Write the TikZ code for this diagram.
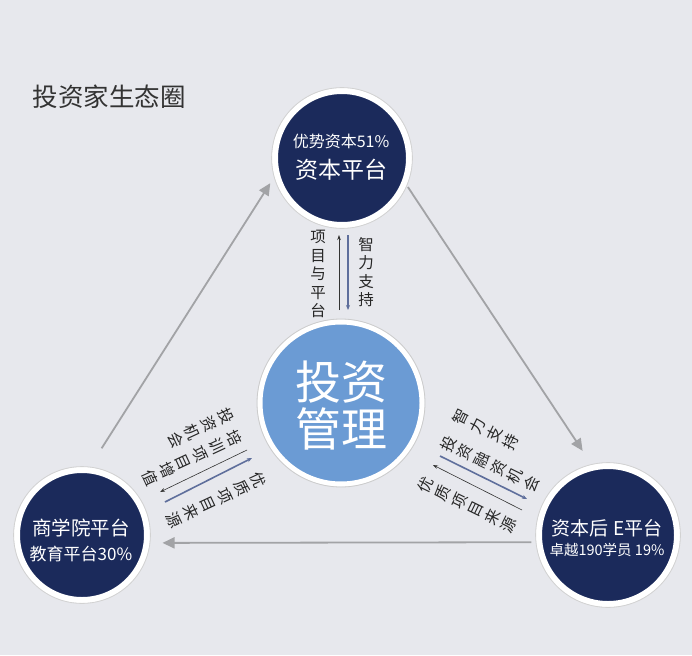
\documentclass[tikz,border=0pt]{standalone}
\usepackage{fontspec}
\setmainfont{Noto Sans CJK SC}
\usetikzlibrary{arrows.meta}

\begin{document}
\begin{tikzpicture}[x=1pt, y=-1pt,
    platform/.style={circle, fill=navyColour, draw=white, line width=6pt, inner sep=0pt, outer sep=0pt},
    platformText/.style={text=white, align=center, inner sep=0pt},
    flowArrow/.style={draw=arrowColour, line width=1.8pt, -{Triangle[length=12pt,width=11pt]}},
    thinArrow/.style={draw=black!80, line width=0.6pt, -{Stealth[length=5pt,width=3.5pt]}},
    blueArrow/.style={draw=slateColour, line width=1.6pt, -{Stealth[length=5pt,width=4pt]}},
    vcol/.style={align=center, text=black!85, inner sep=0pt, font=\fontsize{15.5}{18.5}\selectfont}]

    \definecolor{bgColour}{HTML}{E7E8ED}
    \definecolor{navyColour}{HTML}{1B2A5B}
    \definecolor{hubColour}{HTML}{6B9BD4}
    \definecolor{arrowColour}{HTML}{A2A3A6}
    \definecolor{slateColour}{HTML}{5F6F9C}
    \definecolor{titleColour}{HTML}{333333}

    % Background
    \fill[bgColour] (0,0) rectangle (692,655);
    \useasboundingbox (0,0) rectangle (692,655);

    % Title
    \node[anchor=west, text=titleColour, font=\fontsize{25.5}{28}\selectfont] (title) at (29,97) {投资家生态圈};

    % Platforms
    \node[platform, minimum size=134pt] (tc) at (342,158) {};
    \node[platform, minimum size=130pt] (lc) at (82,535) {};
    \node[platform, minimum size=138pt] (rc) at (608,535) {};
    \draw[gray!35, line width=0.8pt] (tc) circle (70.4);
    \draw[gray!35, line width=0.8pt] (lc) circle (68.4);
    \draw[gray!35, line width=0.8pt] (rc) circle (72.4);

    \node[platformText] (tcText) at (341,157)
        {\fontsize{16}{20}\selectfont 优势资本51\%\\[9pt]\fontsize{23}{23}\selectfont 资本平台};
    \node[platformText] (lcText) at (81,540)
        {\fontsize{19.5}{24}\selectfont 商学院平台\\[8pt]\fontsize{17}{20}\selectfont 教育平台30\%};
    \node[platformText] (rcText) at (607,538)
        {\fontsize{19}{23}\selectfont 资本后 E平台\\[5pt]\fontsize{14.5}{18}\selectfont 卓越190学员 19\%};

    % Investment management hub
    \node[circle, fill=hubColour, draw=white, line width=5pt, minimum size=162pt, inner sep=0pt, outer sep=0pt] (hub) at (341,403) {};
    \draw[gray!40, line width=0.8pt] (hub) circle (84);
    \node[platformText, font=\fontsize{46}{47}\selectfont] (hubText) at (341,406) {投资\\管理};

    % Flow between platforms
    \draw[flowArrow, shorten <=26pt, shorten >=12pt] (lc.85) -- (tc.193);
    \draw[flowArrow, shorten <=6pt, shorten >=20pt] (tc.-21) -- (rc.102);
    \draw[flowArrow, shorten <=8pt, shorten >=16pt] (rc.186) -- (lc.-7);

    % Top pair
    \coordinate (topA) at (339,310);
    \coordinate (topB) at (339,235);
    \coordinate (topC) at (348,235);
    \coordinate (topD) at (348,310);
    \draw[thinArrow] (topA) -- (topB);
    \draw[blueArrow] (topC) -- (topD);
    \node[vcol] (topL) at (318,274) {项\\目\\与\\平\\台};
    \node[vcol] (topR) at (366,272) {智\\力\\支\\持};

    % Left pair
    \coordinate (leftA) at (247,450);
    \coordinate (leftB) at (160,492);
    \coordinate (leftC) at (165,502);
    \coordinate (leftD) at (252,458);
    \draw[thinArrow] (leftA) -- (leftB);
    \draw[blueArrow] (leftC) -- (leftD);
    \node[vcol, rotate=-65] (leftU) at (192,458) {培\\训\\项\\目\\增\\值};
    \node[vcol, rotate=-65] (leftV) at (201,428) {投\\资\\机\\会};
    \node[vcol, rotate=-65] (leftW) at (216.5,500) {优\\质\\项\\目\\来\\源};

    % Right pair
    \coordinate (rightA) at (440,456);
    \coordinate (rightB) at (527,499);
    \coordinate (rightC) at (522,510);
    \coordinate (rightD) at (433,465);
    \draw[blueArrow] (rightA) -- (rightB);
    \draw[thinArrow] (rightC) -- (rightD);
    \node[vcol, rotate=64] (rightU) at (486,429.5) {智\\力\\支\\持};
    \node[vcol, rotate=64] (rightV) at (490,464) {投\\资\\融\\资\\机\\会};
    \node[vcol, rotate=64] (rightW) at (467.5,505) {优\\质\\项\\目\\来\\源};

\end{tikzpicture}
\end{document}
